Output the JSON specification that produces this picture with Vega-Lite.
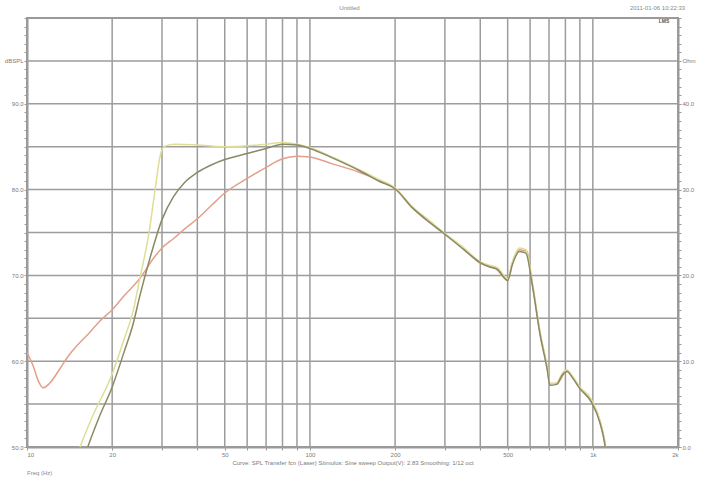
{
  "$schema": "https://vega.github.io/schema/vega-lite/v6.json",
  "width": 651,
  "height": 429,
  "autosize": "none",
  "padding": {"left": 27, "top": 18, "right": 27, "bottom": 35},
  "background": "white",
  "config": {
    "font": "Liberation Sans",
    "view": {"stroke": "#9a9a9a", "strokeWidth": 2},
    "axis": {"domainColor": "#9a9a9a", "domainWidth": 2, "tickColor": "#9a9a9a", "labelColor": "#7a7a7a", "labelFontSize": 6, "titleColor": "#7a7a7a", "titleFontSize": 6, "titleFontWeight": "normal", "grid": false, "labelOverlap": false}
  },
  "datasets": {
    "curves": [
      {"series": "red", "f": 10, "db": 61.0},
      {"series": "red", "f": 10.5, "db": 59.5},
      {"series": "red", "f": 11.0, "db": 57.6},
      {"series": "red", "f": 11.4, "db": 56.9},
      {"series": "red", "f": 12.0, "db": 57.4},
      {"series": "red", "f": 13.0, "db": 59.0},
      {"series": "red", "f": 14.0, "db": 60.6},
      {"series": "red", "f": 15.0, "db": 61.8},
      {"series": "red", "f": 16.5, "db": 63.2},
      {"series": "red", "f": 18.0, "db": 64.6},
      {"series": "red", "f": 20.0, "db": 66.0},
      {"series": "red", "f": 22.0, "db": 67.6},
      {"series": "red", "f": 25.0, "db": 69.6},
      {"series": "red", "f": 28.0, "db": 72.0},
      {"series": "red", "f": 30.0, "db": 73.2},
      {"series": "red", "f": 33.0, "db": 74.3},
      {"series": "red", "f": 36.0, "db": 75.4},
      {"series": "red", "f": 40.0, "db": 76.6},
      {"series": "red", "f": 45.0, "db": 78.2},
      {"series": "red", "f": 50.0, "db": 79.6},
      {"series": "red", "f": 60.0, "db": 81.3},
      {"series": "red", "f": 70.0, "db": 82.6},
      {"series": "red", "f": 80.0, "db": 83.6},
      {"series": "red", "f": 90.0, "db": 83.9},
      {"series": "red", "f": 100, "db": 83.8},
      {"series": "red", "f": 120, "db": 83.0},
      {"series": "red", "f": 150, "db": 82.0},
      {"series": "red", "f": 175, "db": 81.1},
      {"series": "red", "f": 200, "db": 80.1},
      {"series": "red", "f": 230, "db": 77.9},
      {"series": "red", "f": 300, "db": 74.8},
      {"series": "red", "f": 350, "db": 73.1},
      {"series": "red", "f": 400, "db": 71.4},
      {"series": "red", "f": 450, "db": 70.9},
      {"series": "red", "f": 500, "db": 69.5},
      {"series": "red", "f": 520, "db": 71.5},
      {"series": "red", "f": 550, "db": 73.0},
      {"series": "red", "f": 585, "db": 72.8},
      {"series": "red", "f": 610, "db": 69.2},
      {"series": "red", "f": 650, "db": 63.4},
      {"series": "red", "f": 690, "db": 59.2},
      {"series": "red", "f": 705, "db": 57.4},
      {"series": "red", "f": 745, "db": 57.4},
      {"series": "red", "f": 810, "db": 58.9},
      {"series": "red", "f": 850, "db": 58.1},
      {"series": "red", "f": 900, "db": 56.9},
      {"series": "red", "f": 990, "db": 55.3},
      {"series": "red", "f": 1060, "db": 53.0},
      {"series": "red", "f": 1100, "db": 50.7},
      {"series": "red", "f": 1130, "db": 48.0},
      {"series": "yellow", "f": 14, "db": 46.0},
      {"series": "yellow", "f": 15.4, "db": 50.0},
      {"series": "yellow", "f": 17, "db": 53.5},
      {"series": "yellow", "f": 20, "db": 58.5},
      {"series": "yellow", "f": 22, "db": 62.5},
      {"series": "yellow", "f": 23.7, "db": 65.8},
      {"series": "yellow", "f": 25, "db": 69.5},
      {"series": "yellow", "f": 27, "db": 75.0},
      {"series": "yellow", "f": 28.5, "db": 80.5},
      {"series": "yellow", "f": 29.5, "db": 83.8},
      {"series": "yellow", "f": 30.5, "db": 85.0},
      {"series": "yellow", "f": 33, "db": 85.3},
      {"series": "yellow", "f": 40, "db": 85.2},
      {"series": "yellow", "f": 50, "db": 85.0},
      {"series": "yellow", "f": 60, "db": 85.1},
      {"series": "yellow", "f": 70, "db": 85.3},
      {"series": "yellow", "f": 80, "db": 85.5},
      {"series": "yellow", "f": 90, "db": 85.3},
      {"series": "yellow", "f": 100, "db": 84.9},
      {"series": "yellow", "f": 120, "db": 83.8},
      {"series": "yellow", "f": 150, "db": 82.3},
      {"series": "yellow", "f": 175, "db": 81.2},
      {"series": "yellow", "f": 200, "db": 80.2},
      {"series": "yellow", "f": 230, "db": 78.0},
      {"series": "yellow", "f": 260, "db": 76.6},
      {"series": "yellow", "f": 300, "db": 74.9},
      {"series": "yellow", "f": 350, "db": 73.2},
      {"series": "yellow", "f": 400, "db": 71.6},
      {"series": "yellow", "f": 430, "db": 71.2},
      {"series": "yellow", "f": 460, "db": 70.9},
      {"series": "yellow", "f": 500, "db": 69.6},
      {"series": "yellow", "f": 520, "db": 71.6},
      {"series": "yellow", "f": 550, "db": 73.2},
      {"series": "yellow", "f": 580, "db": 73.0},
      {"series": "yellow", "f": 610, "db": 69.4},
      {"series": "yellow", "f": 650, "db": 63.5},
      {"series": "yellow", "f": 690, "db": 59.3},
      {"series": "yellow", "f": 705, "db": 57.4},
      {"series": "yellow", "f": 745, "db": 57.5},
      {"series": "yellow", "f": 780, "db": 58.6},
      {"series": "yellow", "f": 810, "db": 59.0},
      {"series": "yellow", "f": 850, "db": 58.2},
      {"series": "yellow", "f": 900, "db": 57.0},
      {"series": "yellow", "f": 990, "db": 55.5},
      {"series": "yellow", "f": 1060, "db": 53.1},
      {"series": "yellow", "f": 1100, "db": 50.8},
      {"series": "yellow", "f": 1130, "db": 48.0},
      {"series": "dark", "f": 15, "db": 46.0},
      {"series": "dark", "f": 16.4, "db": 50.0},
      {"series": "dark", "f": 18, "db": 53.5},
      {"series": "dark", "f": 20, "db": 57.0},
      {"series": "dark", "f": 22, "db": 61.0},
      {"series": "dark", "f": 23.7, "db": 64.3},
      {"series": "dark", "f": 25, "db": 67.5},
      {"series": "dark", "f": 27.2, "db": 72.0},
      {"series": "dark", "f": 30, "db": 76.5},
      {"series": "dark", "f": 33, "db": 79.2},
      {"series": "dark", "f": 36, "db": 80.8},
      {"series": "dark", "f": 40, "db": 82.0},
      {"series": "dark", "f": 45, "db": 82.9},
      {"series": "dark", "f": 50, "db": 83.5},
      {"series": "dark", "f": 60, "db": 84.2},
      {"series": "dark", "f": 70, "db": 84.8},
      {"series": "dark", "f": 80, "db": 85.3},
      {"series": "dark", "f": 90, "db": 85.2},
      {"series": "dark", "f": 100, "db": 84.8},
      {"series": "dark", "f": 120, "db": 83.7},
      {"series": "dark", "f": 150, "db": 82.2},
      {"series": "dark", "f": 175, "db": 81.0},
      {"series": "dark", "f": 200, "db": 80.1},
      {"series": "dark", "f": 230, "db": 77.9},
      {"series": "dark", "f": 260, "db": 76.4},
      {"series": "dark", "f": 300, "db": 74.8},
      {"series": "dark", "f": 350, "db": 73.0},
      {"series": "dark", "f": 400, "db": 71.5},
      {"series": "dark", "f": 430, "db": 71.0},
      {"series": "dark", "f": 460, "db": 70.7},
      {"series": "dark", "f": 500, "db": 69.4},
      {"series": "dark", "f": 520, "db": 71.3},
      {"series": "dark", "f": 550, "db": 72.8},
      {"series": "dark", "f": 580, "db": 72.6},
      {"series": "dark", "f": 610, "db": 69.0},
      {"series": "dark", "f": 650, "db": 63.2},
      {"series": "dark", "f": 690, "db": 59.0},
      {"series": "dark", "f": 705, "db": 57.2},
      {"series": "dark", "f": 745, "db": 57.3},
      {"series": "dark", "f": 780, "db": 58.4},
      {"series": "dark", "f": 810, "db": 58.8},
      {"series": "dark", "f": 850, "db": 58.0},
      {"series": "dark", "f": 900, "db": 56.8},
      {"series": "dark", "f": 990, "db": 55.2},
      {"series": "dark", "f": 1060, "db": 52.8},
      {"series": "dark", "f": 1100, "db": 50.5},
      {"series": "dark", "f": 1130, "db": 47.5}
    ],
    "vgrid": [
      {"f": 20}, {"f": 30}, {"f": 40}, {"f": 50}, {"f": 60}, {"f": 70}, {"f": 80}, {"f": 90}, {"f": 100},
      {"f": 200}, {"f": 300}, {"f": 400}, {"f": 500}, {"f": 600}, {"f": 700}, {"f": 800}, {"f": 900}, {"f": 1000}
    ],
    "hgrid": [
      {"db": 55}, {"db": 60}, {"db": 65}, {"db": 70}, {"db": 75}, {"db": 80}, {"db": 85}, {"db": 90}, {"db": 95}
    ],
    "notes": [
      {"label": "Untitled", "f": 127, "db": 101.2},
      {"label": "2011-01-06 10:22:33", "f": 1352, "db": 101.2},
      {"label": "Freq (Hz)", "f": 10, "db": 47.0}
    ],
    "badge": [
      {"label": "LMS", "f": 1710, "db": 99.6}
    ]
  },
  "resolve": {"axis": {"y": "independent", "x": "independent"}},
  "layer": [
    {
      "data": {"name": "vgrid"},
      "mark": {"type": "rule", "color": "#9c9c9c", "strokeWidth": 1.5},
      "encoding": {
        "x": {"field": "f", "type": "quantitative", "scale": {"type": "log", "domain": [10, 2000], "nice": false},
          "axis": {"orient": "bottom", "values": [10, 20, 30, 40, 50, 60, 70, 80, 90, 100, 200, 300, 400, 500, 600, 700, 800, 900, 1000, 2000],
            "tickSize": 3, "labelPadding": 1,
            "labelExpr": "datum.value == 10 ? '10' : datum.value == 20 ? '20' : datum.value == 50 ? '50' : datum.value == 100 ? '100' : datum.value == 200 ? '200' : datum.value == 500 ? '500' : datum.value == 1000 ? '1k' : datum.value == 2000 ? '2k' : ''",
            "title": "Curve: SPL   Transfer fcn (Laser)   Stimulus: Sine sweep   Output(V): 2.83   Smoothing: 1/12 oct", "titlePadding": 2}}
      }
    },
    {
      "data": {"name": "hgrid"},
      "mark": {"type": "rule", "color": "#9c9c9c", "strokeWidth": 1.5},
      "encoding": {
        "y": {"field": "db", "type": "quantitative", "scale": {"domain": [50, 100], "nice": false, "zero": false},
          "axis": {"orient": "left", "values": [50,51,52,53,54,55,56,57,58,59,60,61,62,63,64,65,66,67,68,69,70,71,72,73,74,75,76,77,78,79,80,81,82,83,84,85,86,87,88,89,90,91,92,93,94,95,96,97,98,99,100],
            "tickSize": 3, "labelPadding": 1, "title": null,
            "labelExpr": "datum.value == 95 ? 'dBSPL' : (datum.value % 10 == 0 && datum.value < 100) ? format(datum.value, '.1f') : ''"}}
      }
    },
    {
      "data": {"name": "curves"},
      "mark": {"type": "line", "clip": true, "strokeWidth": 1.5, "interpolate": "monotone"},
      "encoding": {
        "x": {"field": "f", "type": "quantitative", "axis": null},
        "y": {"field": "db", "type": "quantitative",
          "axis": {"orient": "right", "values": [50,51,52,53,54,55,56,57,58,59,60,61,62,63,64,65,66,67,68,69,70,71,72,73,74,75,76,77,78,79,80,81,82,83,84,85,86,87,88,89,90,91,92,93,94,95,96,97,98,99,100],
            "tickSize": 3, "labelPadding": 1, "title": null,
            "labelExpr": "datum.value == 95 ? 'Ohm' : (datum.value % 10 == 0 && datum.value < 100) ? format(datum.value - 50, '.1f') : ''"}},
        "color": {"field": "series", "type": "nominal", "legend": null,
          "scale": {"domain": ["red", "yellow", "dark"], "range": ["#e2a08c", "#dede96", "#8a8a66"]}},
        "order": {"field": "f", "type": "quantitative"}
      }
    },
    {
      "data": {"name": "notes"},
      "mark": {"type": "text", "fontSize": 6, "color": "#888888", "align": "left", "baseline": "middle"},
      "encoding": {
        "x": {"field": "f", "type": "quantitative", "axis": null},
        "y": {"field": "db", "type": "quantitative", "axis": null},
        "text": {"field": "label"}
      }
    },
    {
      "data": {"name": "badge"},
      "mark": {"type": "text", "fontSize": 5, "fontWeight": "bold", "color": "#555555", "align": "left", "baseline": "middle"},
      "encoding": {
        "x": {"field": "f", "type": "quantitative", "axis": null},
        "y": {"field": "db", "type": "quantitative", "axis": null},
        "text": {"field": "label"}
      }
    }
  ]
}
